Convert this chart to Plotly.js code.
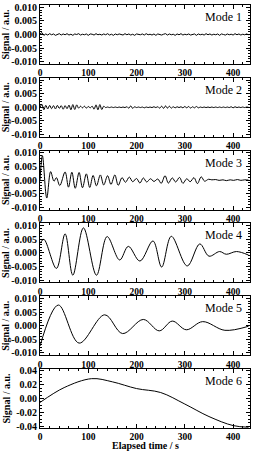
<!DOCTYPE html>
<html>
<head>
<meta charset="utf-8">
<script src="https://cdn.plot.ly/plotly-3.0.1.min.js"></script>
<style>html,body{margin:0;padding:0;background:#fff;}#chart{width:253px;height:452px;}</style>
</head>
<body>
<div id="chart"></div>
<script>
// ---- Data ----
var modeNames = ["Mode 1", "Mode 2", "Mode 3", "Mode 4", "Mode 5", "Mode 6"];
var xTitle = "Elapsed time / s";
var yTitle = "Signal / a.u.";
var xTickVals = [0, 100, 200, 300, 400];
var xTickText = ["0", "100", "200", "300", "400"];
var yTickVals = [-0.01, -0.005, 0, 0.005, 0.01];
var yTickText = ["-0.010", "-0.005", "0.000", "0.005", "0.010"];
var y6TickVals = [-0.04, -0.02, 0, 0.02, 0.04];
var y6TickText = ["-0.04", "-0.02", "0.00", "0.02", "0.04"];

// Modes 1 and 2: sampled every 4 s starting at 0 s
var sampleStep = 4;
var mode1V = [0.0002, 0.0007, -0.0003, 0.0002, -0.0002, 0.0003, -0.0001, 0.0002, -0.0003, 0.0001,
  0.0003, -0.0002, 0.0002, -0.0001, 0.0003, -0.0002, 0.0001, -0.0003, 0.0002, 0.0000,
  0.0003, -0.0002, 0.0001, -0.0001, 0.0002, -0.0003, 0.0002, 0.0001, -0.0002, 0.0003,
  -0.0001, 0.0001, -0.0002, 0.0002, -0.0001, 0.0003, -0.0002, 0.0001, -0.0003, 0.0002,
  -0.0001, 0.0002, 0.0000, -0.0002, 0.0003, -0.0001, 0.0002, -0.0002, 0.0001, -0.0003,
  0.0002, 0.0001, -0.0001, 0.0002, -0.0002, 0.0003, -0.0001, 0.0001, -0.0002, 0.0002,
  -0.0003, 0.0002, 0.0001, -0.0002, 0.0001, 0.0003, -0.0002, 0.0002, -0.0001, 0.0001,
  -0.0003, 0.0002, -0.0001, 0.0003, -0.0002, 0.0001, -0.0001, 0.0002, -0.0002, 0.0001,
  0.0002, -0.0003, 0.0002, -0.0001, 0.0001, -0.0002, 0.0003, -0.0001, 0.0002, -0.0002,
  0.0001, -0.0001, 0.0002, -0.0003, 0.0002, 0.0000, -0.0002, 0.0002, -0.0001, 0.0001,
  -0.0002, 0.0003, -0.0001, 0.0002, -0.0002, 0.0001, -0.0001, 0.0002, -0.0001];
var mode2V = [0.0000, 0.0011, -0.0009, 0.0007, -0.0006, 0.0007, -0.0005, 0.0006, -0.0006, 0.0007,
  -0.0004, 0.0006, -0.0007, 0.0006, -0.0005, 0.0008, -0.0009, 0.0010, -0.0008, 0.0009,
  -0.0003, 0.0004, -0.0002, 0.0004, -0.0003, 0.0003, -0.0002, 0.0004, -0.0007, 0.0009,
  -0.0009, 0.0010, -0.0008, 0.0004, -0.0001, 0.0001, -0.0001, 0.0001, -0.0001, 0.0001,
  -0.0001, 0.0001, -0.0001, 0.0001, -0.0001, 0.0002, -0.0003, 0.0005, -0.0004, 0.0002,
  -0.0001, 0.0001, -0.0001, 0.0001, -0.0002, 0.0001, -0.0001, 0.0001, -0.0001, 0.0002,
  -0.0001, 0.0002, -0.0003, 0.0004, -0.0004, 0.0005, -0.0003, 0.0004, -0.0003, 0.0002,
  -0.0002, 0.0002, -0.0001, 0.0002, -0.0002, 0.0003, -0.0002, 0.0003, -0.0003, 0.0002,
  -0.0002, 0.0003, -0.0002, 0.0001, -0.0001, 0.0001, -0.0001, 0.0001, -0.0001, 0.0001,
  -0.0001, 0.0001, -0.0001, 0.0001, -0.0001, 0.0001, -0.0001, 0.0001, -0.0001, 0.0002,
  -0.0002, 0.0002, -0.0001, 0.0001, -0.0001, 0.0001, -0.0001, 0.0001, 0.0000];

// Modes 3-6: extrema / key points (time in s, signal in a.u.)
var mode3T = [0, 5, 14, 22, 29, 34, 41, 52, 59, 66, 73, 81, 88, 96, 103, 110, 117, 125, 132, 140,
  147, 155, 162, 170, 177, 185, 192, 200, 207, 214, 221, 229, 236, 244, 251, 259, 266, 274, 281, 289,
  296, 304, 311, 319, 326, 334, 341, 349, 356, 364, 371, 379, 386, 394, 401, 409, 416, 424, 432];
var mode3V = [0.0000, 0.0090, -0.0066, 0.0031, -0.0004, 0.0009, -0.0020, 0.0030, -0.0026, 0.0029,
  -0.0030, 0.0028, -0.0028, 0.0023, -0.0027, 0.0017, -0.0021, 0.0019, -0.0018, 0.0016,
  -0.0016, 0.0019, -0.0019, 0.0009, -0.0008, 0.0011, -0.0006, 0.0006, -0.0011, 0.0008,
  -0.0007, 0.0005, -0.0005, 0.0004, -0.0012, 0.0016, -0.0011, 0.0008, -0.0007, 0.0010,
  -0.0012, 0.0005, -0.0006, 0.0009, -0.0013, 0.0012, -0.0004, 0.0003, 0.0001, 0.0002,
  -0.0001, 0.0001, -0.0002, 0.0001, -0.0001, 0.0002, -0.0001, 0.0001, 0.0000];
var mode4T = [0, 8, 34, 52, 68, 90, 117, 139, 165, 183, 207, 234, 252, 272, 305, 331, 350, 372, 386, 407, 432];
var mode4V = [0.0035, 0.0050, -0.0057, 0.0070, -0.0082, 0.0092, -0.0082, 0.0060, -0.0026, 0.0024,
  -0.0030, 0.0044, -0.0052, 0.0061, -0.0048, 0.0033, -0.0012, 0.0005, -0.0005, 0.0005, -0.0008];
var mode5T = [0, 38, 81, 134, 171, 214, 247, 274, 303, 337, 383, 432];
var mode5V = [-0.0075, 0.0076, -0.0064, 0.0040, -0.0029, 0.0023, -0.0019, 0.0017, -0.0015, 0.0015, -0.0017, -0.0002];
var mode6T = [0, 50, 107, 150, 200, 250, 300, 350, 400, 432];
var mode6V = [-0.0057, 0.0157, 0.0286, 0.0240, 0.0143, 0.0086, -0.0080, -0.0260, -0.0390, -0.0414];

(function () {
  function sampleTimes(vals, step) {
    var t = [];
    for (var i = 0; i < vals.length; i++) t.push(i * step);
    return t;
  }

  var seriesT = [sampleTimes(mode1V, sampleStep), sampleTimes(mode2V, sampleStep), mode3T, mode4T, mode5T, mode6T];
  var seriesV = [mode1V, mode2V, mode3V, mode4V, mode5V, mode6V];
  var shapes = ["linear", "spline", "spline", "spline", "spline", "spline"];

  var W = 253, H = 452, mL = 40, mR = 3, mT = 5, mB = 24;
  var plotH = H - mT - mB;
  var panelH = 59, stepH = (plotH - panelH) / 5;
  var fontFam = "Liberation Serif, Times New Roman, serif";
  var tickFont = {family: fontFam, size: 10, color: "#000", weight: "bold"};
  var xTickFont = {family: fontFam, size: 9.5, color: "#000", weight: "bold"};

  var traces = [];
  var layout = {
    width: W, height: H,
    margin: {l: mL, r: mR, t: mT, b: mB},
    paper_bgcolor: "#fff", plot_bgcolor: "#fff",
    showlegend: false,
    annotations: [{
      text: xTitle, showarrow: false,
      xref: "paper", yref: "paper", x: 0.5, y: 0, yshift: -24,
      xanchor: "center", yanchor: "bottom", borderpad: 0,
      font: {family: fontFam, size: 10, color: "#000", weight: "bold"}
    }]
  };

  for (var k = 0; k < 6; k++) {
    var sfx = k === 0 ? "" : String(k + 1);
    var dTop = 1 - k * stepH / plotH;
    var dBot = Math.max(0, dTop - panelH / plotH);
    traces.push({
      type: "scatter", mode: "lines",
      x: seriesT[k], y: seriesV[k],
      xaxis: "x" + sfx, yaxis: "y" + sfx,
      line: {color: "#000", width: 1, shape: shapes[k], smoothing: 1},
      hoverinfo: "skip"
    });
    var xa = {
      domain: [0, 1], anchor: "y" + sfx, range: [0, 435],
      tickvals: xTickVals, ticktext: xTickText, tickfont: xTickFont,
      ticks: "inside", ticklen: 4, tickwidth: 1, tickcolor: "#000",
      minor: {ticks: "inside", ticklen: 2, dtick: 20, tick0: 0, tickcolor: "#000", tickwidth: 1},
      showline: true, linecolor: "#000", linewidth: 1, mirror: "allticks",
      showgrid: false, zeroline: false
    };
    if (k > 0) xa.matches = "x";
    var is6 = (k === 5);
    var ya = {
      domain: [dBot, dTop], anchor: "x" + sfx,
      range: is6 ? [-0.0425, 0.0425] : [-0.01085, 0.01085],
      tickvals: is6 ? y6TickVals : yTickVals, ticktext: is6 ? y6TickText : yTickText,
      tickfont: tickFont,
      ticks: "inside", ticklen: 4, tickwidth: 1, tickcolor: "#000",
      minor: {ticks: "inside", ticklen: 2, dtick: is6 ? 0.005 : 0.001, tick0: 0, tickcolor: "#000", tickwidth: 1},
      showline: true, linecolor: "#000", linewidth: 1, mirror: "allticks",
      showgrid: false, zeroline: false,
      title: {text: yTitle, font: {family: fontFam, size: 10, color: "#000", weight: "bold"}, standoff: 3}
    };
    layout["xaxis" + sfx] = xa;
    layout["yaxis" + sfx] = ya;
    layout.annotations.push({
      text: modeNames[k], showarrow: false,
      xref: "x" + sfx + " domain", yref: "y" + sfx + " domain",
      x: 0.97, y: 0.95, xanchor: "right", yanchor: "top",
      font: {family: fontFam, size: 12, color: "#000"}
    });
  }

  Plotly.newPlot("chart", traces, layout, {staticPlot: true, displayModeBar: false});
})();
</script>
</body>
</html>
